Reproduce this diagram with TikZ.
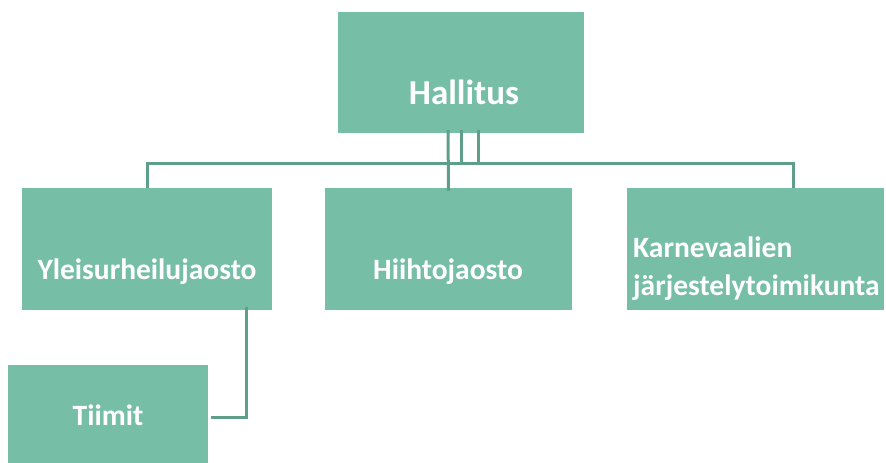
\documentclass[tikz,border=0pt]{standalone}
\usepackage{fontspec}
\setmainfont{Carlito}
\definecolor{boxfill}{HTML}{77BEA6}
\definecolor{linecol}{HTML}{5F9F89}
\begin{document}
\begin{tikzpicture}[x=1pt,y=-1pt,
  orgbox/.style={draw=none,fill=boxfill,rectangle,inner sep=0pt},
  boxtext/.style={text=white,font=\bfseries\fontsize{29.5}{36}\selectfont,inner sep=0pt},
  conn/.style={draw=linecol,line width=3pt}]
\useasboundingbox (0,0) rectangle (886,463);
% boxes
\node[orgbox,minimum width=246pt,minimum height=121pt] (hal) at (461,72.5) {};
\node[orgbox,minimum width=250pt,minimum height=122pt] (yl) at (147,249) {};
\node[orgbox,minimum width=247pt,minimum height=122pt] (hi) at (448.5,249) {};
\node[orgbox,minimum width=257pt,minimum height=122pt] (kar) at (755.5,249) {};
\node[orgbox,minimum width=200pt,minimum height=98pt] (ti) at (108,414) {};
% texts
\node[boxtext,anchor=base,font=\bfseries\fontsize{35}{42}\selectfont] (thal) at (464,104) {Hallitus};
\node[boxtext,anchor=base] (tyl) at (147,279) {Yleisurheilujaosto};
\node[boxtext,anchor=base] (thi) at (448,279) {Hiihtojaosto};
\node[boxtext,anchor=base west] (tkar1) at (633,257) {Karnevaalien};
\node[boxtext,anchor=base west] (tkar2) at (633,295) {järjestelytoimikunta};
\node[boxtext,anchor=base] (tti) at (108,425) {Tiimit};
% connectors
\coordinate (bus) at (0,163);
\draw[conn] ([xshift=-13pt,yshift=3pt]hal.south) -- ([yshift=-3pt]hi.north);
\draw[conn] ([xshift=0pt,yshift=3pt]hal.south) -- ([xshift=0pt]hal.south |- bus) -- ([xshift=17pt]hal.south |- bus) -- ([xshift=17pt,yshift=3pt]hal.south);
\draw[conn] (yl.north) -- (yl.north |- bus) -- ([xshift=37.5pt]kar.north |- bus) -- ([xshift=37.5pt]kar.north);
\coordinate (tcorner) at (246.7,417);
\draw[conn] ([xshift=99.7pt,yshift=3pt]yl.south) -- (tcorner) -- ([xshift=3pt]ti.east |- tcorner);
\end{tikzpicture}
\end{document}
